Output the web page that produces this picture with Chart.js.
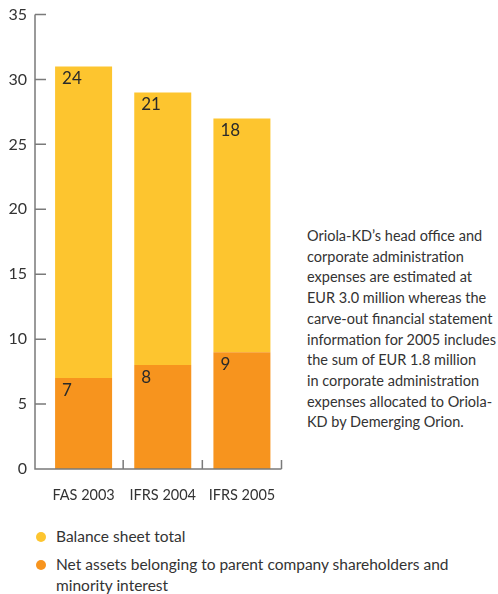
<!DOCTYPE html>
<html>
<head>
<meta charset="utf-8">
<script src="https://cdn.jsdelivr.net/npm/chart.js@4.4.0/dist/chart.umd.min.js"></script>
<style>
    body { margin: 0; background: #fff; font-family: "Lato", sans-serif; color: #333; }
    #wrap { position: absolute; left: 0; top: 0; width: 290px; height: 509px; }
    #note {
        position: absolute; left: 307px; top: 226px;
        font-size: 14.5px; line-height: 20.7px; white-space: nowrap;
    }
    #legend { position: absolute; left: 36px; top: 526px; font-size: 15.5px; line-height: 21px; }
    .item { position: relative; padding-left: 20px; margin-bottom: 7px; }
    .dot { position: absolute; left: 0; top: 6px; width: 10px; height: 10px; border-radius: 50%; }
</style>
</head>
<body>
<div id="wrap"><canvas id="chart" width="290" height="509"></canvas></div>
<div id="note">Oriola-KD’s head office and<br>corporate administration<br>expenses are estimated at<br>EUR 3.0 million whereas the<br>carve-out financial statement<br>information for 2005 includes<br>the sum of EUR 1.8 million<br>in corporate administration<br>expenses allocated to Oriola-<br>KD by Demerging Orion.</div>
<div id="legend"></div>
<script>
const categories = ["FAS 2003", "IFRS 2004", "IFRS 2005"];
const netAssets = [7, 8, 9];
const balanceSheet = [24, 21, 18];
const yTicks = [0, 5, 10, 15, 20, 25, 30, 35];

const YELLOW = "#fdc52f";
const ORANGE = "#f7941e";
const AXIS = "#7a7a7a";

Chart.defaults.font.family = "Lato";
Chart.defaults.color = "#333";

// axis lines drawn by hand so the y axis sits a little left of the first category
const axisLines = {
    id: "axisLines",
    afterDatasetsDraw(chart) {
        const { ctx, chartArea, scales: { x, y } } = chart;
        const axisX = chartArea.left - 9;
        const y0 = y.getPixelForValue(0);
        ctx.save();
        ctx.strokeStyle = AXIS;
        ctx.lineWidth = 1.5;
        ctx.beginPath();
        ctx.moveTo(axisX, y.getPixelForValue(y.max));
        ctx.lineTo(axisX, y0);
        ctx.lineTo(chartArea.right, y0);
        yTicks.forEach(v => {
            const py = y.getPixelForValue(v);
            ctx.moveTo(axisX, py);
            ctx.lineTo(axisX + 11, py);
        });
        const half = (x.getPixelForValue(1) - x.getPixelForValue(0)) / 2;
        categories.forEach((c, i) => {
            const px = x.getPixelForValue(i) + half;
            ctx.moveTo(px, y0);
            ctx.lineTo(px, y0 - 9);
        });
        ctx.stroke();
        ctx.restore();
    }
};

const barLabels = {
    id: "barLabels",
    afterDatasetsDraw(chart) {
        const { ctx } = chart;
        ctx.save();
        ctx.font = "17px Lato";
        ctx.fillStyle = "#2a2a2a";
        ctx.textAlign = "left";
        ctx.textBaseline = "alphabetic";
        chart.data.datasets.forEach((ds, di) => {
            chart.getDatasetMeta(di).data.forEach((el, i) => {
                ctx.fillText(ds.data[i], el.x - el.width / 2 + 7, el.y + 18);
            });
        });
        ctx.restore();
    }
};

const chart = new Chart(document.getElementById("chart"), {
    type: "bar",
    data: {
        labels: categories,
        datasets: [
            { label: "Net assets belonging to parent company shareholders and minority interest", data: netAssets, backgroundColor: ORANGE },
            { label: "Balance sheet total", data: balanceSheet, backgroundColor: YELLOW }
        ]
    },
    options: {
        responsive: false,
        animation: false,
        layout: { padding: { top: 14.5, right: 8.5, left: 0, bottom: 0 } },
        datasets: { bar: { barPercentage: 0.72, categoryPercentage: 1 } },
        plugins: { legend: { display: false }, tooltip: { enabled: false } },
        scales: {
            x: {
                stacked: true,
                grid: { display: false, drawTicks: false },
                border: { display: false },
                ticks: { font: { size: 14.5 }, color: "#333", padding: 18 },
                afterFit: s => { s.height = 40; s.paddingLeft = 0; s.paddingRight = 0; }
            },
            y: {
                stacked: true,
                min: 0,
                max: 35,
                grid: { display: false, drawTicks: false },
                border: { display: false },
                ticks: { stepSize: 5, font: { size: 16 }, color: "#333", padding: 17 },
                afterFit: s => { s.width = 44; s.paddingTop = 0; s.paddingBottom = 0; }
            }
        }
    },
    plugins: [axisLines, barLabels]
});

// html legend, yellow first as in the print
const legend = document.getElementById("legend");
chart.data.datasets.slice().reverse().forEach(ds => {
    const item = document.createElement("div");
    item.className = "item";
    item.innerHTML = `<span class="dot" style="background:${ds.backgroundColor}"></span>` +
        ds.label.replace("shareholders and ", "shareholders and<br>");
    legend.appendChild(item);
});
</script>
</body>
</html>
